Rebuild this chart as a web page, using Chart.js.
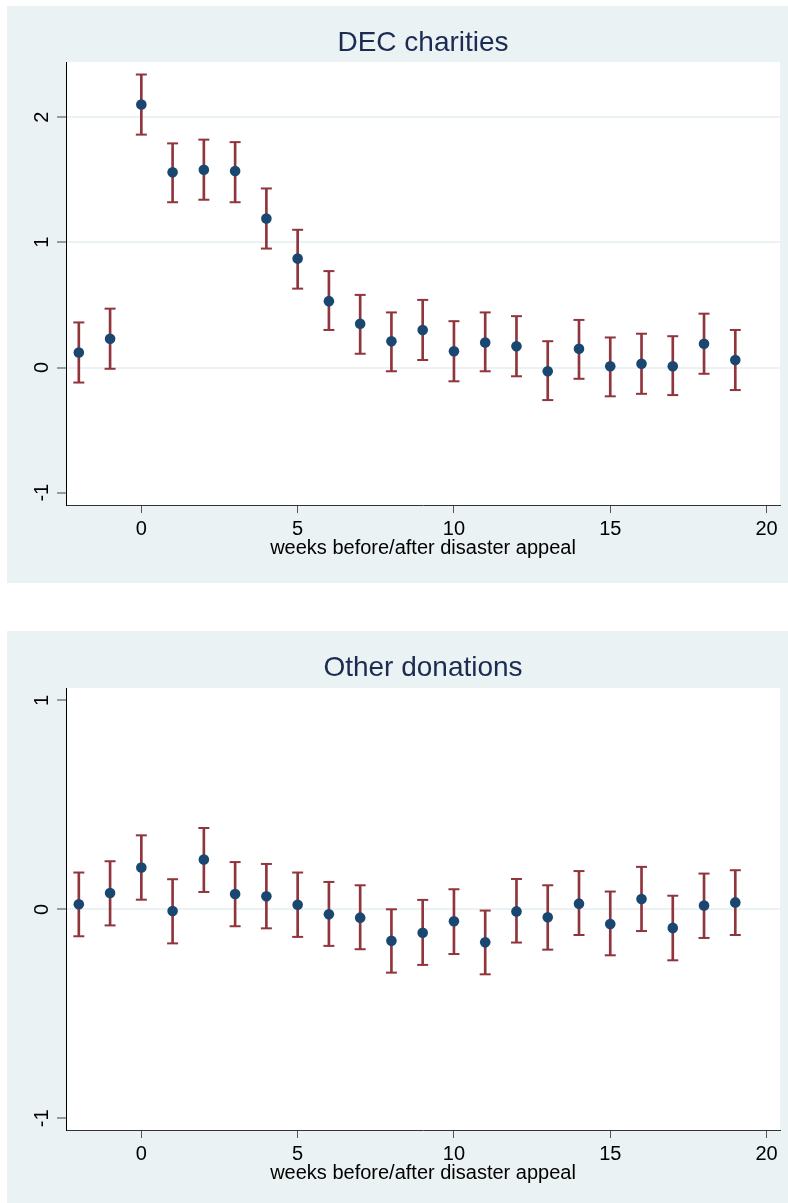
<!DOCTYPE html>
<html>
<head>
<meta charset="utf-8">
<script src="https://cdn.jsdelivr.net/npm/chart.js@4.4.1/dist/chart.umd.min.js"></script>
<style>
  body { margin: 0; background: #fff; width: 788px; height: 1203px; position: relative; overflow: hidden; }
  .panel { position: absolute; left: 7px; }
  #top { top: 6px; }
  #bottom { top: 631px; }
</style>
</head>
<body>
<div class="panel" id="top"><canvas id="decChart" width="781" height="577"></canvas></div>
<div class="panel" id="bottom"><canvas id="otherChart" width="781" height="572"></canvas></div>
<script>
// weeks relative to the appeal
const weeks = [-2, -1, 0, 1, 2, 3, 4, 5, 6, 7, 8, 9, 10, 11, 12, 13, 14, 15, 16, 17, 18, 19];

// DEC charities: estimate and confidence interval
const decMean = [0.12, 0.23, 2.10, 1.56, 1.58, 1.57, 1.19, 0.87, 0.53, 0.35, 0.21, 0.30, 0.13, 0.20, 0.17, -0.03, 0.15, 0.01, 0.03, 0.01, 0.19, 0.06];
const decLow = [-0.12, -0.01, 1.86, 1.32, 1.34, 1.32, 0.95, 0.63, 0.30, 0.11, -0.03, 0.06, -0.11, -0.03, -0.07, -0.26, -0.09, -0.23, -0.21, -0.22, -0.05, -0.18];
const decHigh = [0.36, 0.47, 2.34, 1.79, 1.82, 1.80, 1.43, 1.10, 0.77, 0.58, 0.44, 0.54, 0.37, 0.44, 0.41, 0.21, 0.38, 0.24, 0.27, 0.25, 0.43, 0.30];

// Other donations
const otherMean = [0.024, 0.078, 0.200, -0.008, 0.238, 0.073, 0.062, 0.022, -0.024, -0.040, -0.151, -0.112, -0.057, -0.158, -0.010, -0.038, 0.027, -0.070, 0.049, -0.089, 0.018, 0.033];
const otherLow = [-0.129, -0.077, 0.046, -0.163, 0.083, -0.081, -0.091, -0.132, -0.175, -0.191, -0.303, -0.266, -0.214, -0.311, -0.159, -0.193, -0.123, -0.220, -0.104, -0.244, -0.137, -0.123];
const otherHigh = [0.176, 0.230, 0.354, 0.144, 0.389, 0.226, 0.217, 0.176, 0.131, 0.115, 0.000, 0.045, 0.096, -0.006, 0.145, 0.115, 0.183, 0.085, 0.203, 0.065, 0.171, 0.187];

// tick labels
const xTicks = [0, 5, 10, 15, 20];
const decYTicks = [-1, 0, 1, 2];
const otherYTicks = [-1, 0, 1];
const decGridAt = [0, 1, 2];
const otherGridAt = [0];

const xTitle = 'weeks before/after disaster appeal';

Chart.defaults.font.family = '"Liberation Sans", Arial, Helvetica, sans-serif';

const BG = '#eaf2f3';
const NAVY = '#1a476f';
const MAROON = '#90353b';

// panel background + white plot region
const panelBg = {
  id: 'panelBg',
  beforeDraw(chart) {
    const { ctx, chartArea: a } = chart;
    ctx.save();
    ctx.fillStyle = BG;
    ctx.fillRect(0, 0, chart.width, chart.height);
    ctx.fillStyle = '#fff';
    ctx.fillRect(a.left, a.top, a.right - a.left, a.bottom - a.top);
    ctx.restore();
  }
};

// vertical (rotated) y tick labels, Stata style
const yTickLabels = {
  id: 'yTickLabels',
  afterDraw(chart) {
    const ctx = chart.ctx;
    const ys = chart.scales.y;
    ctx.save();
    ctx.font = '20px "Liberation Sans", Arial, sans-serif';
    ctx.fillStyle = '#000';
    ctx.textAlign = 'center';
    ctx.textBaseline = 'middle';
    ys.ticks.forEach(t => {
      ctx.save();
      ctx.translate(35.5, ys.getPixelForValue(t.value));
      ctx.rotate(-Math.PI / 2);
      ctx.fillText(String(t.value), 0, 0);
      ctx.restore();
    });
    ctx.restore();
  }
};

function makePanel(id, title, mean, low, high, yMin, yMax, yTicks, gridAt, titleBlock, xAxisHeight, xTitlePad) {
  new Chart(document.getElementById(id), {
    type: 'scatter',
    data: {
      datasets: [
        {
          type: 'scatter',
          data: weeks.map((w, i) => ({ x: w, y: mean[i] })),
          backgroundColor: NAVY,
          borderColor: NAVY,
          pointRadius: 5.3,
          borderWidth: 0,
          order: 0
        },
        {
          type: 'scatter',
          data: weeks.map((w, i) => ({ x: w, y: high[i] })),
          pointStyle: 'line',
          pointRadius: 5.5,
          borderColor: MAROON,
          borderWidth: 2,
          order: 1
        },
        {
          type: 'scatter',
          data: weeks.map((w, i) => ({ x: w, y: low[i] })),
          pointStyle: 'line',
          pointRadius: 5.5,
          borderColor: MAROON,
          borderWidth: 2,
          order: 1
        },
        {
          type: 'bar',
          data: weeks.map((w, i) => ({ x: w, y: [low[i], high[i]] })),
          backgroundColor: MAROON,
          borderWidth: 0,
          barThickness: 2,
          order: 2
        }
      ]
    },
    options: {
      responsive: false,
      animation: false,
      devicePixelRatio: 1,
      events: [],
      layout: { padding: { left: 0, right: 8, top: 0, bottom: 0 } },
      plugins: {
        legend: { display: false },
        tooltip: { enabled: false },
        title: {
          display: true,
          fullSize: false,
          text: title,
          color: '#1c2b52',
          font: { size: 28, weight: 'normal' },
          padding: { top: 20, bottom: titleBlock - 20 - 33.6 }
        }
      },
      scales: {
        x: {
          type: 'linear',
          min: -2.41,
          max: 20.43,
          offset: false,
          afterBuildTicks: s => { s.ticks = xTicks.map(v => ({ value: v })); },
          afterFit: s => { s.height = xAxisHeight; },
          ticks: { color: '#000', font: { size: 20 }, padding: 4, maxRotation: 0 },
          grid: { drawOnChartArea: false, offset: false, drawTicks: true, tickLength: 8, tickColor: '#555', tickWidth: 1 },
          border: { display: true, color: '#333', width: 1 },
          title: { display: true, text: xTitle, color: '#000', font: { size: 20 }, padding: { top: 0, bottom: xTitlePad } }
        },
        y: {
          type: 'linear',
          min: yMin,
          max: yMax,
          afterBuildTicks: s => { s.ticks = yTicks.map(v => ({ value: v })); },
          afterFit: s => { s.width = 59; },
          ticks: { display: false },
          grid: {
            color: c => (c.tick && gridAt.includes(c.tick.value)) ? BG : 'rgba(0,0,0,0)',
            lineWidth: 2,
            drawTicks: true,
            tickLength: 9,
            tickColor: '#444',
            tickWidth: 1
          },
          border: { display: true, color: '#000', width: 1 }
        }
      }
    },
    plugins: [panelBg, yTickLabels]
  });
}

makePanel('decChart', 'DEC charities', decMean, decLow, decHigh, -1.098, 2.44, decYTicks, decGridAt, 56, 78, 22.5);
makePanel('otherChart', 'Other donations', otherMean, otherLow, otherHigh, -1.056, 1.059, otherYTicks, otherGridAt, 57, 73, 17.5);
</script>
</body>
</html>
